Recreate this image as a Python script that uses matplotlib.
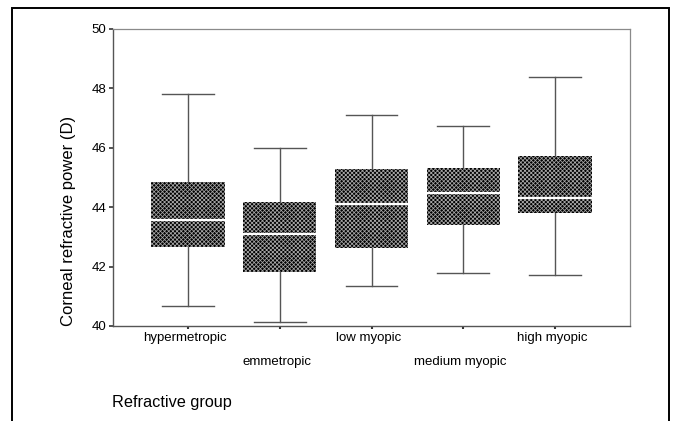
import matplotlib
matplotlib.use('Agg')
import matplotlib.pyplot as plt  # noqa
from matplotlib.patches import Rectangle

plt.rcParams['font.family'] = ['Liberation Sans', 'DejaVu Sans']
plt.rcParams['hatch.linewidth'] = 0.55

GROUPS = ['hypermetropic', 'emmetropic', 'low myopic', 'medium myopic', 'high myopic']
WHISKER_LOW = [40.68, 40.12, 41.34, 41.80, 41.72]
Q1 = [42.67, 41.81, 42.64, 43.40, 43.81]
MEDIAN = [43.57, 43.10, 44.10, 44.49, 44.31]
Q3 = [44.84, 44.17, 45.28, 45.33, 45.73]
WHISKER_HIGH = [47.82, 45.98, 47.10, 46.73, 48.37]
Y_TICKS = [40, 42, 44, 46, 48, 50]

COLOR_SPINE = '#555555'
COLOR_SPINE_LIGHT = '#8a8a8a'
COLOR_WHISKER = '#555555'

W, H = 674, 421
fig = plt.figure(figsize=(W / 100, H / 100), dpi=100)
ax = fig.add_axes([113 / W, 1 - 326 / H, (630 - 113) / W, (326 - 29) / H])

stats = []
for i, name in enumerate(GROUPS):
    stats.append({
        'label': name,
        'whislo': WHISKER_LOW[i],
        'q1': Q1[i],
        'med': MEDIAN[i],
        'q3': Q3[i],
        'whishi': WHISKER_HIGH[i],
        'fliers': [],
    })

positions = list(range(1, len(GROUPS) + 1))
parts = ax.bxp(
    stats, positions=positions, widths=0.8, capwidths=0.56,
    patch_artist=True, showfliers=False,
    boxprops=dict(facecolor='black', edgecolor='#a8a8a8', linewidth=0,
                  hatch='xxxxxxxx'),
    whiskerprops=dict(color=COLOR_WHISKER, linewidth=1.0),
    capprops=dict(color=COLOR_WHISKER, linewidth=1.0),
    medianprops=dict(color='white', linewidth=1.6))

ax.set_xlim(0.18, 5.82)
ax.set_ylim(40, 50)
ax.set_yticks(Y_TICKS)
ax.set_yticklabels([str(t) for t in Y_TICKS])
ax.set_xticks(positions)
ax.set_xticklabels([])

# staggered category labels
for i, name in enumerate(GROUPS):
    offset = -12 if i % 2 == 0 else -36
    ax.annotate(name, xy=(positions[i], 40), xycoords='data',
                xytext=(-3, offset), textcoords='offset pixels',
                ha='center', va='center', fontsize=9.5, color='black')

ax.tick_params(axis='y', direction='out', length=3, width=1.2,
               color='#333333', labelsize=9.5, pad=2)
ax.tick_params(axis='x', direction='out', length=2.5, width=1.5,
               color='#333333')

for sp in ['left', 'bottom']:
    ax.spines[sp].set_color(COLOR_SPINE)
    ax.spines[sp].set_linewidth(1.0)
for sp in ['top', 'right']:
    ax.spines[sp].set_color(COLOR_SPINE_LIGHT)
    ax.spines[sp].set_linewidth(0.9)

fig.text(69 / W, 1 - 221 / H, 'Corneal refractive power (D)', rotation=90,
         ha='center', va='center', fontsize=12)
fig.text(112 / W, 1 - 403 / H, 'Refractive group', ha='left', va='center',
         fontsize=11.7)

# outer frame (no bottom edge visible)
frame = Rectangle((12 / W, -0.05), (669 - 12) / W, (1 - 8 / H) + 0.05,
                  transform=fig.transFigure, fill=False, edgecolor='black',
                  linewidth=1.4)
fig.patches.append(frame)

fig.savefig('out.png', dpi=100)
